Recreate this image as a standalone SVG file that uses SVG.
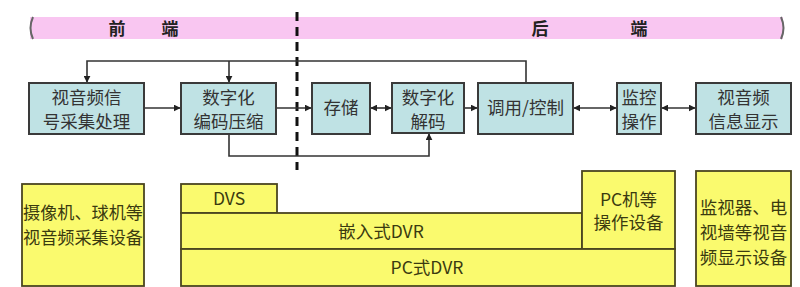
<svg xmlns="http://www.w3.org/2000/svg" width="800" height="287" viewBox="0 0 800 287">
<style>
.b{fill:#bfe2e4;stroke:#3a3a3a;stroke-width:2}
.y{fill:#fafa6e;stroke:#4a4520;stroke-width:1.8}
.t{font-family:"Noto Sans CJK SC","Noto Sans",sans-serif;font-size:17.5px;fill:#333;text-anchor:middle}
.ty{font-family:"Noto Sans CJK SC","Noto Sans",sans-serif;font-size:17.5px;fill:#3a3a10;text-anchor:middle}
.h{font-family:"Noto Sans CJK SC",sans-serif;font-size:17px;font-weight:bold;fill:#222;text-anchor:middle}
.c{fill:none;stroke:#333;stroke-width:1.6}
</style>
<defs>
<marker id="a" viewBox="0 0 10 10" refX="9" refY="5" markerWidth="7" markerHeight="7" orient="auto-start-reverse" markerUnits="userSpaceOnUse">
<path d="M0,0L10,5L0,10z" fill="#222"/>
</marker>
</defs>
<rect width="800" height="287" fill="#fff"/>
<g id="band">
<rect x="30" y="17" width="753" height="22" fill="#f9c6f1"/>
<path d="M33,17 Q28,28 33,39" fill="none" stroke="#666" stroke-width="2"/>
<path d="M781,17 Q786,28 781,39" fill="none" stroke="#666" stroke-width="2"/>
<text class="h" x="117" y="35">前</text>
<text class="h" x="170" y="35">端</text>
<text class="h" x="540" y="35">后</text>
<text class="h" x="639" y="35">端</text>
</g>
<line x1="297" y1="12" x2="297" y2="170" stroke="#111" stroke-width="3" stroke-dasharray="9,6"/>
<g id="connectors">
<path class="c" d="M526,83V61H87V82" marker-end="url(#a)"/>
<path class="c" d="M229,61V82" marker-end="url(#a)"/>
<path class="c" d="M144,108H180" marker-end="url(#a)"/>
<path class="c" d="M276,108H311" marker-end="url(#a)"/>
<path class="c" d="M371,108H391" marker-start="url(#a)" marker-end="url(#a)"/>
<path class="c" d="M464,108H477" marker-end="url(#a)"/>
<path class="c" d="M574,108H616" marker-start="url(#a)" marker-end="url(#a)"/>
<path class="c" d="M662,108H695" marker-start="url(#a)" marker-end="url(#a)"/>
<path class="c" d="M229,134V156H429V134" marker-end="url(#a)"/>
</g>
<g id="n1"><rect class="b" x="29" y="83" width="115" height="51"/><text class="t" x="86.5" y="104">视音频信</text><text class="t" x="86.5" y="128">号采集处理</text></g>
<g id="n2"><rect class="b" x="181" y="83" width="95" height="51"/><text class="t" x="228.5" y="104">数字化</text><text class="t" x="228.5" y="128">编码压缩</text></g>
<g id="n3"><rect class="b" x="312" y="83" width="58" height="51"/><text class="t" x="341" y="114">存储</text></g>
<g id="n4"><rect class="b" x="392" y="83" width="72" height="50"/><text class="t" x="428" y="104">数字化</text><text class="t" x="428" y="128">解码</text></g>
<g id="n5"><rect class="b" x="478" y="83" width="95" height="51"/><text class="t" x="525.5" y="114">调用/控制</text></g>
<g id="n6"><rect class="b" x="617" y="83" width="44" height="51"/><text class="t" x="639" y="104">监控</text><text class="t" x="639" y="128">操作</text></g>
<g id="n7"><rect class="b" x="696" y="83" width="95" height="51"/><text class="t" x="743.5" y="104">视音频</text><text class="t" x="743.5" y="128">信息显示</text></g>
<g id="y1"><rect class="y" x="22" y="184" width="122" height="102"/><text class="ty" x="83" y="219" textLength="120" lengthAdjust="spacingAndGlyphs">摄像机、球机等</text><text class="ty" x="83" y="244" textLength="120" lengthAdjust="spacingAndGlyphs">视音频采集设备</text></g>
<g id="y2"><rect class="y" x="181" y="184" width="96" height="29"/><text class="ty" x="229" y="205" font-family="Liberation Sans">DVS</text></g>
<g id="y3"><rect class="y" x="181" y="213" width="401" height="36"/><text class="ty" x="381" y="238">嵌入式DVR</text></g>
<g id="y4"><rect class="y" x="582" y="171" width="93" height="78"/><text class="ty" x="628.5" y="206">PC机等</text><text class="ty" x="628.5" y="229">操作设备</text></g>
<g id="y5"><rect class="y" x="181" y="249" width="494" height="37"/><text class="ty" x="427" y="274">PC式DVR</text></g>
<g id="y6"><rect class="y" x="696" y="171" width="95" height="115"/><text class="ty" x="743.5" y="214" font-size="17">监视器、电</text><text class="ty" x="743.5" y="239" font-size="17">视墙等视音</text><text class="ty" x="743.5" y="264" font-size="17">频显示设备</text></g>
</svg>
